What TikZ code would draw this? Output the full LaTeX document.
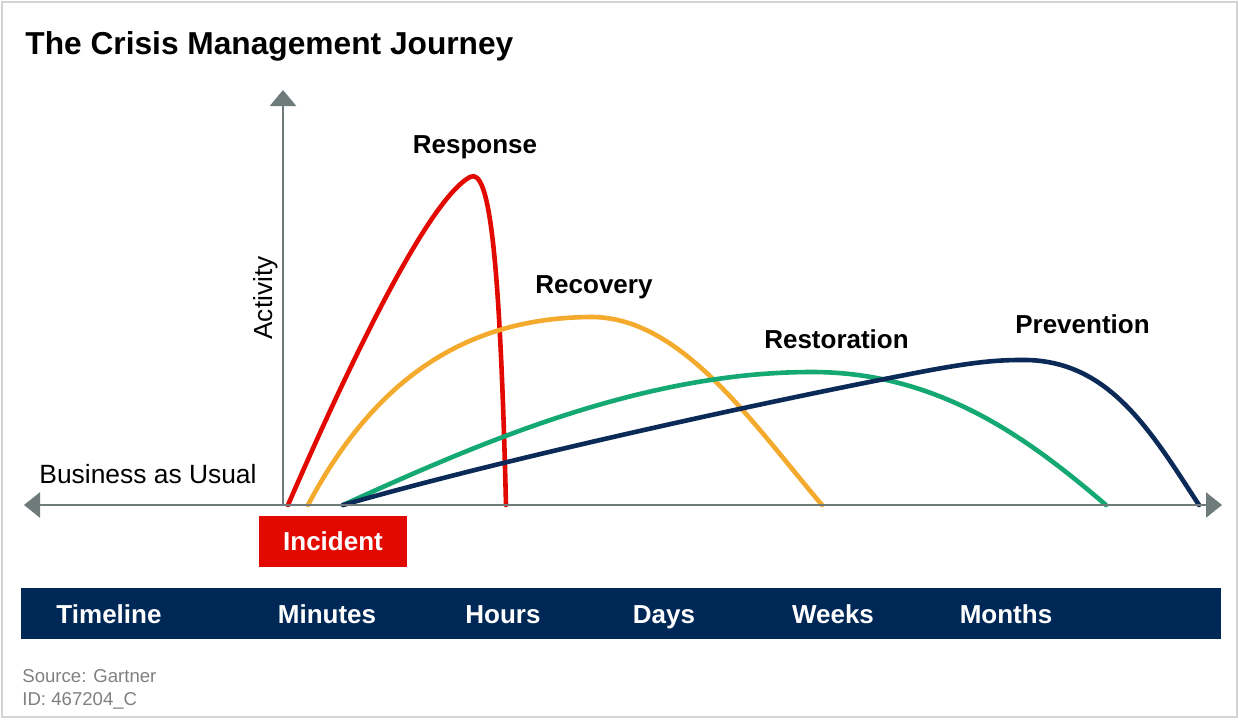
\documentclass[tikz,border=0pt]{standalone}
\usepackage{fontspec}
\setmainfont{Liberation Sans}
\usetikzlibrary{arrows.meta}
\definecolor{cred}{HTML}{E20A00}
\definecolor{corange}{HTML}{F4AA2C}
\definecolor{cgreen}{HTML}{14A873}
\definecolor{cnavy}{HTML}{0B2A57}
\definecolor{cbar}{HTML}{002856}
\definecolor{caxis}{HTML}{6F7B7B}
\definecolor{csrc}{HTML}{808080}
\definecolor{cframe}{HTML}{D4D4D4}
\tikzset{
  lbl/.style={inner sep=0pt, anchor=base, font=\bfseries\fontsize{13}{15}\selectfont},
  barlbl/.style={lbl, text=white},
  axisline/.style={draw=caxis, line width=1.25pt},
  curve/.style={line width=2.3pt, line cap=round},
  srclbl/.style={inner sep=0pt, anchor=base west, text=csrc, font=\fontsize{9.3}{11}\selectfont},
}
\begin{document}
\begin{tikzpicture}[x=0.5pt, y=-0.5pt]
\useasboundingbox (0,0) rectangle (1239,719);
\fill[white] (0,0) rectangle (1239,719);
\draw[cframe, line width=0.6pt] (2,2) rectangle (1237,717);
% title
\node[inner sep=0pt, anchor=base west, font=\bfseries\fontsize{15.85}{19}\selectfont] (title) at (25,54) {The Crisis Management Journey};
% axes
\coordinate (O) at (283,505);
\coordinate (ytip) at (283,90);
\coordinate (xl) at (24,505);
\coordinate (xr) at (1222,505);
% curves
\draw[curve, cred] (288,505) .. controls (350,362) and (428,200) .. (470,177)
  .. controls (490,166) and (500,260) .. (506,505);
\draw[curve, corange] (308,505) .. controls (382,365) and (480,318) .. (590,317)
  .. controls (680,316) and (750,420) .. (822,505);
\draw[curve, cgreen] (343,505) .. controls (475,445) and (640,372) .. (812,372)
  .. controls (940,372) and (1030,440) .. (1106,505);
\draw[curve, cnavy] (343,505) .. controls (500,460) and (750,405) .. (900,376)
  .. controls (960,364) and (990,360) .. (1020,360)
  .. controls (1108,358) and (1150,430) .. (1199,505);
\draw[axisline, -{Triangle[length=8pt,width=13pt]}] (O) -- (ytip);
\draw[axisline, {Triangle[length=8pt,width=12.5pt]}-{Triangle[length=8pt,width=12.5pt]}] (xl) -- (xr);
% labels
\node[lbl] (response) at (475,153) {Response};
\node[lbl] (recovery) at (594,293) {Recovery};
\node[lbl] (restoration) at (836.5,348) {Restoration};
\node[lbl] (prevention) at (1082.5,333) {Prevention};
\node[inner sep=0pt, anchor=base, rotate=90, font=\fontsize{13.1}{15}\selectfont] (activity) at (272,298) {Activity};
\node[inner sep=0pt, anchor=base, font=\fontsize{13.2}{15}\selectfont] (bau) at (148,483) {Business as Usual};
% incident
\node[fill=cred, text=white, inner sep=0pt, minimum width=74pt, minimum height=25.5pt, font=\bfseries\fontsize{13}{15}\selectfont] (incident) at (333,541.5) {Incident};
% timeline bar
\path[fill=cbar] (21,588) rectangle (1221,639);
\node[barlbl] (timeline) at (109,623) {Timeline};
\node[barlbl] (minutes) at (327,623) {Minutes};
\node[barlbl] (hours) at (503,623) {Hours};
\node[barlbl] (days) at (664,623) {Days};
\node[barlbl] (weeks) at (833,623) {Weeks};
\node[barlbl] (months) at (1006,623) {Months};
% source
\node[srclbl] (source) at (22,682) {Source: Gartner};
\node[srclbl] (id) at (22,705) {ID: 467204\_C};
\end{tikzpicture}
\end{document}
